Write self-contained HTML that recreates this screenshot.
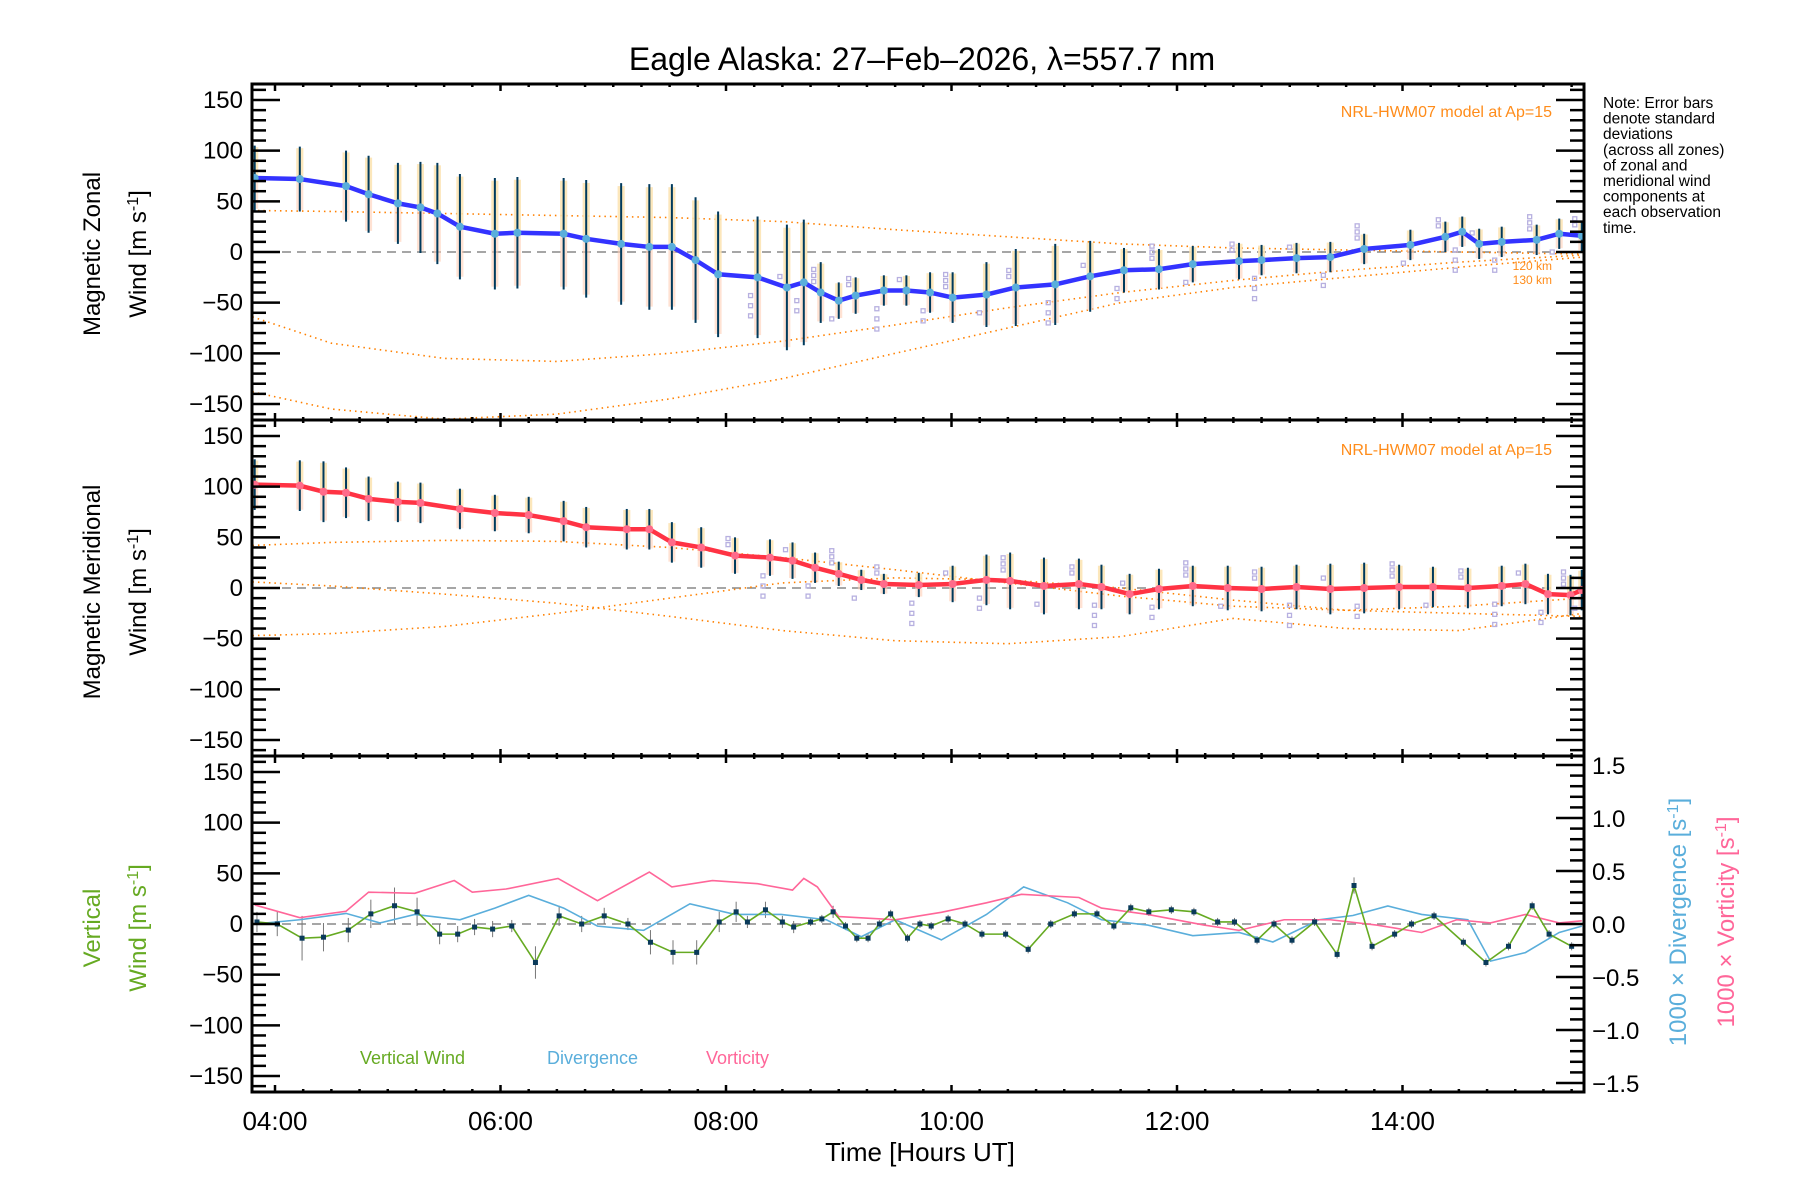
<!DOCTYPE html>
<html><head><meta charset="utf-8">
<style>
html,body{margin:0;padding:0;background:#fff;}
svg{display:block;font-family:"Liberation Sans",sans-serif;}
</style></head>
<body>
<svg id="chart" width="1800" height="1200" viewBox="0 0 1800 1200" xmlns="http://www.w3.org/2000/svg">
<defs>
<clipPath id="c0"><rect x="252" y="84" width="1332" height="336"/></clipPath>
<clipPath id="c1"><rect x="252" y="420" width="1332" height="336"/></clipPath>
<clipPath id="c2"><rect x="252" y="756" width="1332" height="336"/></clipPath>
</defs>
<text x="922" y="70" font-size="32" text-anchor="middle">Eagle Alaska: 27–Feb–2026, λ=557.7 nm</text>
<g id="layer"></g>
<text transform="translate(100,254) rotate(-90)" font-size="24" text-anchor="middle">Magnetic Zonal</text>
<text transform="translate(146,254) rotate(-90)" font-size="24" text-anchor="middle">Wind [m s<tspan baseline-shift="super" font-size="16">-1</tspan>]</text>
<text transform="translate(100,592) rotate(-90)" font-size="24" text-anchor="middle">Magnetic Meridional</text>
<text transform="translate(146,592) rotate(-90)" font-size="24" text-anchor="middle">Wind [m s<tspan baseline-shift="super" font-size="16">-1</tspan>]</text>
<text transform="translate(100,928) rotate(-90)" font-size="24" text-anchor="middle" fill="#66aa22">Vertical</text>
<text transform="translate(146,928) rotate(-90)" font-size="24" text-anchor="middle" fill="#66aa22">Wind [m s<tspan baseline-shift="super" font-size="16">-1</tspan>]</text>
<text transform="translate(1686,922) rotate(-90)" font-size="24" text-anchor="middle" fill="#5aaedb">1000 × Divergence [s<tspan baseline-shift="super" font-size="16">-1</tspan>]</text>
<text transform="translate(1734,922) rotate(-90)" font-size="24" text-anchor="middle" fill="#ff6699">1000 × Vorticity [s<tspan baseline-shift="super" font-size="16">-1</tspan>]</text>
<text x="920" y="1161" font-size="26" text-anchor="middle">Time [Hours UT]</text>
<text x="1552" y="117" font-size="16" text-anchor="end" fill="#ff8c1a">NRL-HWM07 model at Ap=15</text>
<text x="1552" y="455" font-size="16" text-anchor="end" fill="#ff8c1a">NRL-HWM07 model at Ap=15</text>
<text x="1552" y="270" font-size="12" text-anchor="end" fill="#ff8c1a">120 km</text>
<text x="1552" y="284" font-size="12" text-anchor="end" fill="#ff8c1a">130 km</text>
<text x="360" y="1064" font-size="18" fill="#66aa22">Vertical Wind</text>
<text x="547" y="1064" font-size="18" fill="#5aaedb">Divergence</text>
<text x="706" y="1064" font-size="18" fill="#ff6699">Vorticity</text>
<text font-size="15.5" x="1603" y="108">
<tspan x="1603" dy="0">Note: Error bars</tspan>
<tspan x="1603" dy="15.6">denote standard</tspan>
<tspan x="1603" dy="15.6">deviations</tspan>
<tspan x="1603" dy="15.6">(across all zones)</tspan>
<tspan x="1603" dy="15.6">of zonal and</tspan>
<tspan x="1603" dy="15.6">meridional wind</tspan>
<tspan x="1603" dy="15.6">components at</tspan>
<tspan x="1603" dy="15.6">each observation</tspan>
<tspan x="1603" dy="15.6">time.</tspan>
</text>
</svg>
<script>
// ---- data ----
const zonalT=[3.82,4.22,4.63,4.83,5.09,5.29,5.44,5.64,5.95,6.15,6.56,6.76,7.07,7.32,7.52,7.73,7.93,8.28,8.54,8.69,8.84,9.00,9.15,9.40,9.60,9.81,10.01,10.31,10.57,10.92,11.23,11.53,11.84,12.14,12.55,12.75,13.06,13.36,13.66,14.07,14.38,14.53,14.68,14.88,15.19,15.39,15.59];
const zonalV=[73,72,65,57,48,44,38,25,18,19,18,13,8,5,5,-8,-22,-25,-35,-30,-40,-48,-43,-38,-38,-40,-45,-42,-35,-32,-24,-18,-17,-12,-9,-8,-6,-5,3,7,15,20,8,10,12,18,16];
const zonalErr=[32,32,35,38,40,45,50,52,55,55,55,58,60,62,62,62,62,60,62,62,30,18,18,15,15,20,25,32,38,40,35,22,20,18,18,15,15,15,15,15,15,15,15,15,15,15,15];
const meridT=[3.82,4.22,4.43,4.63,4.83,5.09,5.29,5.64,5.95,6.25,6.56,6.76,7.12,7.32,7.52,7.78,8.08,8.39,8.59,8.79,9.00,9.20,9.40,9.71,10.01,10.31,10.52,10.82,11.13,11.33,11.58,11.84,12.14,12.45,12.75,13.06,13.36,13.66,13.97,14.27,14.58,14.88,15.09,15.29,15.49,15.59];
const meridV=[102,101,95,94,88,85,84,78,74,72,66,60,58,58,45,40,32,30,27,20,14,8,4,3,4,8,7,2,4,1,-6,-1,2,0,-1,1,-1,0,1,1,0,2,4,-6,-7,-2];
const meridErr=[25,25,30,25,22,20,20,20,18,18,20,20,20,20,20,20,18,18,18,15,12,10,10,12,18,25,28,28,25,22,20,20,20,22,22,22,25,25,22,20,20,20,20,20,20,20];
const vwT=[3.84,4.02,4.24,4.43,4.65,4.85,5.06,5.26,5.46,5.62,5.77,5.93,6.10,6.31,6.52,6.72,6.92,7.13,7.33,7.53,7.74,7.94,8.09,8.19,8.35,8.50,8.60,8.75,8.85,8.95,9.06,9.16,9.26,9.36,9.46,9.61,9.72,9.82,9.97,10.12,10.27,10.48,10.68,10.88,11.09,11.29,11.44,11.59,11.75,11.95,12.15,12.36,12.51,12.71,12.86,13.02,13.22,13.42,13.57,13.73,13.93,14.08,14.28,14.54,14.74,14.94,15.15,15.30,15.50];
const vwV=[2,0,-14,-13,-6,10,18,12,-10,-10,-3,-5,-2,-38,8,0,8,0,-18,-28,-28,2,12,2,14,2,-3,2,5,12,-2,-14,-14,0,10,-14,0,-2,5,0,-10,-10,-25,0,10,10,-2,16,12,14,12,2,2,-16,0,-16,2,-30,38,-22,-10,0,8,-18,-38,-22,18,-10,-22];
const vwErr=[10,12,22,14,12,14,18,14,10,8,8,8,6,16,10,8,8,6,12,12,12,10,10,6,8,6,6,4,4,6,4,4,4,4,4,4,4,4,4,4,4,4,4,4,4,4,4,4,4,4,4,4,4,4,4,4,4,4,8,4,4,4,4,4,4,4,4,4,4];
const divT=[3.82,4.22,4.63,4.93,5.24,5.64,5.95,6.25,6.56,6.86,7.27,7.68,8.08,8.49,8.89,9.20,9.50,9.91,10.31,10.64,11.03,11.33,11.74,12.14,12.55,12.85,13.26,13.56,13.87,14.17,14.58,14.78,15.09,15.39,15.59];
const divV=[0,0.04,0.1,0.01,0.09,0.04,0.15,0.27,0.15,-0.02,-0.06,0.19,0.09,0.09,0.04,-0.12,0.04,-0.15,0.09,0.35,0.2,0.04,-0.01,-0.11,-0.08,-0.17,0.04,0.08,0.17,0.09,0.04,-0.35,-0.27,-0.08,-0.02];
const vorT=[3.82,4.22,4.63,4.83,5.24,5.59,5.75,6.05,6.51,6.86,7.32,7.52,7.88,8.28,8.59,8.69,8.81,9.00,9.50,9.91,10.31,10.62,11.13,11.33,11.74,12.24,12.55,12.95,13.36,13.77,14.17,14.48,14.78,15.09,15.39,15.59];
const vorV=[0.18,0.06,0.12,0.3,0.29,0.41,0.3,0.33,0.43,0.22,0.49,0.35,0.41,0.38,0.32,0.43,0.35,0.07,0.04,0.11,0.2,0.28,0.25,0.15,0.09,-0.01,-0.06,0.04,0.04,-0.01,-0.08,0.04,0.01,0.09,0.01,0.03];
const modelT=[3.8,4.5,5.5,6.5,7.5,8.5,9.5,10.5,11.5,12.5,13.5,14.5,15.6];
const zModelA=[41,40,38,36,34,30,22,15,8,4,2,0,-2];
const zModelB=[-64,-90,-105,-108,-100,-88,-72,-55,-40,-28,-18,-10,-3];
const zModelC=[-138,-155,-165,-160,-145,-125,-100,-75,-50,-35,-25,-15,-5];
const mModelA=[42,45,47,46,40,30,18,5,-8,-18,-22,-18,-10];
const mModelB=[-47,-45,-38,-25,-10,5,10,8,0,-12,-22,-25,-28];
const mModelC=[6,2,-6,-15,-28,-42,-52,-55,-48,-30,-40,-42,-25];
const yTicks=[-150,-100,-50,0,50,100,150];
const rTicks=[-1.5,-1.0,-0.5,0.0,0.5,1.0,1.5];
const xTicks=[4,6,8,10,12,14];
const xLabels=["04:00","06:00","08:00","10:00","12:00","14:00"];
const scatterOff=[-18,-28,-38,22];

// ---- scales ----
const L=252,R=1584,TOPS=[84,420,756],H=336;
function xS(h){return L+(h-3.796)*112.75;}
function yS(v,p){return TOPS[p]+H/2-v*1.0133;}
function yR(v){return 924-v*106;}
const NS="http://www.w3.org/2000/svg";
const layer=document.getElementById('layer');
function mk(tag,attrs,parent){const e=document.createElementNS(NS,tag);for(const k in attrs)e.setAttribute(k,attrs[k]);(parent||layer).appendChild(e);return e;}
function grp(p){const g=mk('g',{'clip-path':'url(#c'+p+')'});return g;}

function modelLine(T,V,p,name){
  const g=grp(p);
  const e=mk('polyline',{points:T.map((t,i)=>xS(t)+','+yS(V[i],p)).join(' '),fill:'none',stroke:'#ff8000','stroke-width':1.6,'stroke-dasharray':'1.5 4'},g);
  
  
}
function windPanel(T,V,E,p,lineCol,prefix){
  const g=grp(p);
  T.forEach((t,i)=>{
    const x=xS(t);
    const r=mk('rect',{x:x-3.5,y:yS(V[i]+E[i]*0.95,p),width:7,height:E[i]*1.9*1.0133,fill:'#ffcfb5',opacity:0.6},g);
    
    
    const r2=mk('rect',{x:x-3.5,y:yS(V[i]+E[i]*0.95,p),width:7,height:E[i]*0.9*1.0133,fill:'#fbeab0',opacity:0.7},g);
    
    
  });
  T.forEach((t,i)=>{
    if(t<8)return;
    const x=xS(t);
    scatterOff.slice(0,(i%3)+1).forEach(o=>{
      const s=mk('rect',{x:x-9,y:yS(V[i]+o*(i%2?1:-0.6),p)-2,width:4,height:4,fill:'none',stroke:'#b7b0e0','stroke-width':1.3},g);
      
      
    });
  });
  T.forEach((t,i)=>{
    const x=xS(t);
    const l=mk('line',{x1:x,x2:x,y1:yS(V[i]+E[i],p),y2:yS(V[i]-E[i],p),stroke:'#003a5c','stroke-width':2},g);
    
    
  });
  const pl=mk('polyline',{points:T.map((t,i)=>xS(t)+','+yS(V[i],p)).join(' '),fill:'none',stroke:lineCol,'stroke-width':4.5,'stroke-linejoin':'round'},g);
  
  
  T.forEach((t,i)=>{
    const c=mk('circle',{cx:xS(t),cy:yS(V[i],p),r:4,fill:p===0?'#5aaedb':'#ff6b8a'},g);
    
    
  });
}

// zero lines
[0,1,2].forEach(p=>{
  const z=mk('line',{x1:L,x2:R,y1:yS(0,p),y2:yS(0,p),stroke:'#888','stroke-width':1.4,'stroke-dasharray':'9 6'});
  
  
});

modelLine(modelT,zModelA,0,'zonal-model-line');
modelLine(modelT,zModelB,0,'zonal-model-120km');
modelLine(modelT,zModelC,0,'zonal-model-130km');
modelLine(modelT,mModelA,1,'meridional-model-line');
modelLine(modelT,mModelB,1,'meridional-model-120km');
modelLine(modelT,mModelC,1,'meridional-model-130km');
windPanel(zonalT,zonalV,zonalErr,0,'#3333ff','zonal');
windPanel(meridT,meridV,meridErr,1,'#ff3344','meridional');

// panel 3
{
  const g=grp(2);
  vwT.forEach((t,i)=>{
    const x=xS(t);
    const l=mk('line',{x1:x,x2:x,y1:yS(vwV[i]+vwErr[i],2),y2:yS(vwV[i]-vwErr[i],2),stroke:'#777','stroke-width':1},g);
    
    
  });
  const dv=mk('polyline',{points:divT.map((t,i)=>xS(t)+','+yR(divV[i])).join(' '),fill:'none',stroke:'#5aaedb','stroke-width':1.6},g);
  
  
  const vo=mk('polyline',{points:vorT.map((t,i)=>xS(t)+','+yR(vorV[i])).join(' '),fill:'none',stroke:'#ff6699','stroke-width':1.6},g);
  
  
  const vw=mk('polyline',{points:vwT.map((t,i)=>xS(t)+','+yS(vwV[i],2)).join(' '),fill:'none',stroke:'#66aa22','stroke-width':1.6},g);
  
  
  vwT.forEach((t,i)=>{
    const r=mk('rect',{x:xS(t)-2.5,y:yS(vwV[i],2)-2.5,width:5,height:5,fill:'#0a3a5a'},g);
    
    
  });
}

// axes frames & ticks
[0,1,2].forEach(p=>{
  const top=TOPS[p];
  const f=mk('rect',{x:L,y:top,width:R-L,height:H,fill:'none',stroke:'#000','stroke-width':3});
  
  
  for(let v=-160;v<=160;v+=10){
    const y=yS(v,p);
    if(y<top+1||y>top+H-1)continue;
    const len=(v%50===0)?28:14;
    mk('line',{x1:L,x2:L+len,y1:y,y2:y,stroke:'#000','stroke-width':2.5});
    if(p<2)mk('line',{x1:R,x2:R-len,y1:y,y2:y,stroke:'#000','stroke-width':2.5});
  }
  yTicks.forEach(v=>{
    const t=mk('text',{x:243,y:yS(v,p)+8,'font-size':24,'text-anchor':'end'});
    t.textContent=(v<0?'−':'')+Math.abs(v);
    
    
  });
  for(let h=4;h<=15.5;h+=0.25){
    const x=xS(h);
    const major=Math.abs(h%2)<1e-6;
    mk('line',{x1:x,x2:x,y1:top+H,y2:top+H-(major?7:3),stroke:'#000','stroke-width':2.5});
    mk('line',{x1:x,x2:x,y1:top,y2:top+(major?7:3),stroke:'#000','stroke-width':2.5});
  }
});
for(let v=-1.5;v<=1.501;v+=0.1){
  const y=yR(v);
  const len=(Math.abs(Math.round(v*10))%5===0)?28:14;
  mk('line',{x1:R,x2:R-len,y1:y,y2:y,stroke:'#000','stroke-width':2.5});
}
rTicks.forEach(v=>{
  const t=mk('text',{x:1592,y:yR(v)+9,'font-size':24});
  t.textContent=(v<0?'−':'')+Math.abs(v).toFixed(1);
  
  
});
xTicks.forEach((h,i)=>{
  const t=mk('text',{x:xS(h),y:1130,'font-size':26,'text-anchor':'middle'});
  t.textContent=xLabels[i];
  
  
});
</script>
</body></html>
